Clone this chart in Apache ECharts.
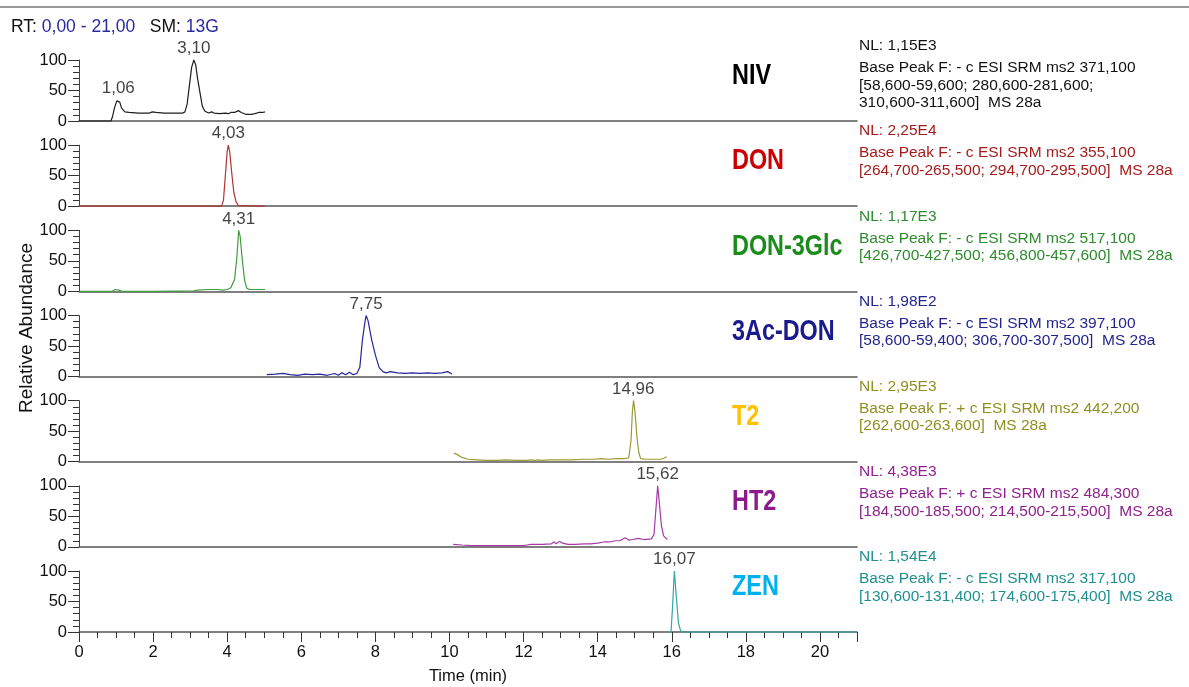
<!DOCTYPE html>
<html><head><meta charset="utf-8">
<script src="https://cdn.jsdelivr.net/npm/echarts@6/dist/echarts.min.js"></script>
<style>html,body{margin:0;padding:0;background:#fff}#c{width:1189px;height:687px}</style>
</head><body><div id="c"></div>
<script>
// ---------- data ----------
const compounds = ['NIV', 'DON', 'DON-3Glc', '3Ac-DON', 'T2', 'HT2', 'ZEN'];
const nlLabels = ['NL: 1,15E3', 'NL: 2,25E4', 'NL: 1,17E3', 'NL: 1,98E2', 'NL: 2,95E3', 'NL: 4,38E3', 'NL: 1,54E4'];
const scanInfo = [
  'Base Peak F: - c ESI SRM ms2 371,100\n[58,600-59,600; 280,600-281,600;\n310,600-311,600]  MS 28a',
  'Base Peak F: - c ESI SRM ms2 355,100\n[264,700-265,500; 294,700-295,500]  MS 28a',
  'Base Peak F: - c ESI SRM ms2 517,100\n[426,700-427,500; 456,800-457,600]  MS 28a',
  'Base Peak F: - c ESI SRM ms2 397,100\n[58,600-59,400; 306,700-307,500]  MS 28a',
  'Base Peak F: + c ESI SRM ms2 442,200\n[262,600-263,600]  MS 28a',
  'Base Peak F: + c ESI SRM ms2 484,300\n[184,500-185,500; 214,500-215,500]  MS 28a',
  'Base Peak F: - c ESI SRM ms2 317,100\n[130,600-131,400; 174,600-175,400]  MS 28a'
];
const headerRange = '0,00 - 21,00';
const headerSmooth = '13G';
const yTicks = [0, 50, 100];

const nivTrace = [[0,0],[0.86,0],[0.9,6],[0.96,22],[1.02,33],[1.06,35],[1.1,31],[1.15,21],[1.24,15],[1.35,14],[1.6,13],[1.9,13],[1.98,15],[2.03,16],[2.08,14],[2.3,13],[2.6,13],[2.8,13],[2.86,15],[2.92,28],[2.98,58],[3.04,88],[3.10,100],[3.15,92],[3.2,70],[3.27,45],[3.33,24],[3.4,16],[3.5,13],[3.58,15],[3.65,13],[3.8,12],[3.95,13],[4.03,12],[4.1,14],[4.2,14],[4.3,17],[4.38,14],[4.5,11],[4.65,11],[4.75,12],[4.85,14],[4.95,14],[5.02,15]];
const donTrace = [[0,0],[3.85,0],[3.9,10],[3.95,50],[4.0,90],[4.03,100],[4.07,88],[4.13,50],[4.18,22],[4.24,7],[4.3,1],[4.35,0],[5.02,0]];
const glcTrace = [[0,0],[0.9,0],[0.98,3],[1.03,4],[1.08,2],[1.15,0],[2.0,0],[2.6,0.5],[3.1,1],[3.2,2],[3.5,3],[3.7,3],[3.9,2],[4.0,3],[4.1,6],[4.15,9],[4.2,20],[4.26,55],[4.31,100],[4.35,90],[4.41,50],[4.47,18],[4.53,5],[4.6,3],[4.8,3],[5.02,3]];
const acdonTrace = [[5.07,3],[5.3,4],[5.5,5],[5.7,3],[5.9,2],[6.1,4],[6.3,3],[6.5,4],[6.7,2],[6.9,5],[7.0,2],[7.1,6],[7.2,3],[7.3,7],[7.4,3],[7.5,5],[7.58,15],[7.65,60],[7.72,90],[7.75,100],[7.8,92],[7.9,60],[8.0,35],[8.1,15],[8.2,8],[8.3,6],[8.4,8],[8.6,6],[8.8,5],[9.0,6],[9.2,5],[9.4,6],[9.6,5],[9.8,6],[9.95,8],[10.07,4]];
const t2Trace = [[10.12,14],[10.2,12],[10.34,7],[10.5,4],[10.75,3],[11.0,2],[11.3,2],[11.5,3],[11.8,2],[12.1,2],[12.2,3],[12.3,2],[12.4,3],[12.5,2],[12.7,3],[13.0,3],[13.3,3],[13.6,4],[13.9,4],[14.1,5],[14.3,4],[14.5,5],[14.7,5],[14.84,6],[14.9,35],[14.94,85],[14.97,100],[15.01,80],[15.06,40],[15.11,15],[15.16,5],[15.3,4],[15.5,4],[15.7,4],[15.8,6],[15.86,8]];
const ht2Trace = [[10.1,4],[10.34,3],[10.6,2],[11.0,2],[11.5,2],[12.0,2],[12.1,3],[12.2,4],[12.5,4],[12.75,5],[12.82,8],[12.88,5],[12.97,9],[13.05,6],[13.2,4],[13.4,4],[13.63,5],[13.8,5],[14.0,6],[14.17,8],[14.3,8],[14.49,10],[14.6,10],[14.74,15],[14.85,11],[14.95,12],[15.09,14],[15.25,12],[15.45,13],[15.52,20],[15.57,60],[15.62,100],[15.66,75],[15.72,35],[15.78,18],[15.88,12]];
const zenTrace = [[15.9,0],[15.98,0],[16.02,40],[16.07,100],[16.12,60],[16.18,15],[16.24,2],[16.3,0],[21,0]];
const traces = [nivTrace, donTrace, glcTrace, acdonTrace, t2Trace, ht2Trace, zenTrace];

const nivPeaks = [[1.06, 35], [3.10, 100]];
const donPeaks = [[4.03, 100]];
const glcPeaks = [[4.31, 100]];
const acdonPeaks = [[7.75, 100]];
const t2Peaks = [[14.96, 100]];
const ht2Peaks = [[15.62, 100]];
const zenPeaks = [[16.07, 100]];
const peaks = [nivPeaks, donPeaks, glcPeaks, acdonPeaks, t2Peaks, ht2Peaks, zenPeaks];

// ---------- styles ----------
const traceColors = ['#1e1e1e', '#b03434', '#3f9e3f', '#26269a', '#9a9a36', '#a63aa6', '#35a5a5'];
const nameColors = ['#000000', '#cc0000', '#1a8c1a', '#1a1a8c', '#ffc000', '#8c1a8c', '#00b0f0'];
const infoColors = ['#111111', '#a51c1c', '#2e8b2e', '#24248f', '#8f8f22', '#8f228f', '#1f8f8f'];

const FONT = '"Liberation Sans", Arial, sans-serif';
const LEFT = 79, RIGHT_EDGE = 857, PH = 61, BASE0 = 121, STEP = 85.17;
const n = compounds.length;

const grids = [], xAxes = [], yAxes = [], series = [], graphics = [];
for (let i = 0; i < n; i++) {
  const base = BASE0 + STEP * i;
  const last = i === n - 1;
  grids.push({ left: LEFT, width: RIGHT_EDGE - LEFT, top: base - PH, height: PH });
  xAxes.push({
    gridIndex: i, type: 'value', min: 0, max: 21, interval: 2,
    axisLine: { show: true, onZero: false, lineStyle: { color: '#555', width: 1.5 } },
    axisTick: { show: last, length: 10, lineStyle: { color: '#333', width: 1 } },
    minorTick: { show: last, splitNumber: 4, length: 6, lineStyle: { color: '#333', width: 1 } },
    axisLabel: { show: last, showMaxLabel: false, margin: 12, fontFamily: FONT, fontSize: 16.5, color: '#111' },
    splitLine: { show: false },
    name: last ? 'Time (min)' : '', nameLocation: 'middle', nameGap: 36,
    nameTextStyle: { fontFamily: FONT, fontSize: 16.5, color: '#111' }
  });
  yAxes.push({
    gridIndex: i, type: 'value', min: 0, max: 100, interval: 50,
    axisLine: { show: true, lineStyle: { color: '#444', width: 1 } },
    axisTick: { show: true, length: 11, lineStyle: { color: '#333', width: 1 } },
    minorTick: { show: true, splitNumber: 5, length: 6, lineStyle: { color: '#333', width: 1 } },
    axisLabel: { margin: 12, fontFamily: FONT, fontSize: 16.5, color: '#111', customValues: yTicks },
    splitLine: { show: false }
  });
  series.push({
    type: 'line', xAxisIndex: i, yAxisIndex: i, data: traces[i], showSymbol: false, symbol: 'none',
    lineStyle: { color: traceColors[i], width: 1.2 }, clip: false, silent: true
  });
  series.push({
    type: 'scatter', xAxisIndex: i, yAxisIndex: i, data: peaks[i], symbolSize: 0, silent: true,
    label: {
      show: true, position: 'top', distance: 3, fontFamily: FONT, fontSize: 17, color: '#111',
      formatter: p => p.value[0].toFixed(2).replace('.', ',')
    }
  });
  // compound name (condensed bold look)
  graphics.push({ type: 'text', x: 732, y: base - 45, scaleX: 0.78, style: {
    text: compounds[i], fill: nameColors[i], font: 'bold 30px ' + FONT, verticalAlign: 'middle', align: 'left'
  } });
  // info block
  const nlY = base - 75;
  graphics.push({ type: 'text', x: 859, y: nlY, style: {
    text: nlLabels[i], fill: infoColors[i], font: '15.5px ' + FONT, verticalAlign: 'middle', align: 'left'
  } });
  graphics.push({ type: 'text', x: 859, y: nlY + 22 - 8.75, style: {
    text: scanInfo[i], fill: infoColors[i], font: '15.5px ' + FONT, lineHeight: 17.5, verticalAlign: 'top', align: 'left'
  } });
}

// header
graphics.push({ type: 'line', shape: { x1: 0, y1: 7, x2: 1189, y2: 7 }, style: { stroke: '#777', lineWidth: 1.5 } });
graphics.push({ type: 'text', x: 11, y: 27, style: {
  text: '{k|RT:} {v|' + headerRange + '}   {k|SM:} {v|' + headerSmooth + '}',
  verticalAlign: 'middle', align: 'left',
  rich: {
    k: { fontFamily: FONT, fontSize: 17.5, fill: '#111' },
    v: { fontFamily: FONT, fontSize: 17.5, fill: '#2a2aa0' }
  },
  font: '17.5px ' + FONT
} });
// y axis title
graphics.push({ type: 'text', x: 27, y: 328, rotation: Math.PI / 2, style: {
  text: 'Relative Abundance', fill: '#111', font: '19px ' + FONT, align: 'center', verticalAlign: 'middle'
} });

const chart = echarts.init(document.getElementById('c'), null, { renderer: 'canvas' });
chart.setOption({
  animation: false,
  backgroundColor: '#fff',
  grid: grids, xAxis: xAxes, yAxis: yAxes, series: series, graphic: graphics
});
</script></body></html>
